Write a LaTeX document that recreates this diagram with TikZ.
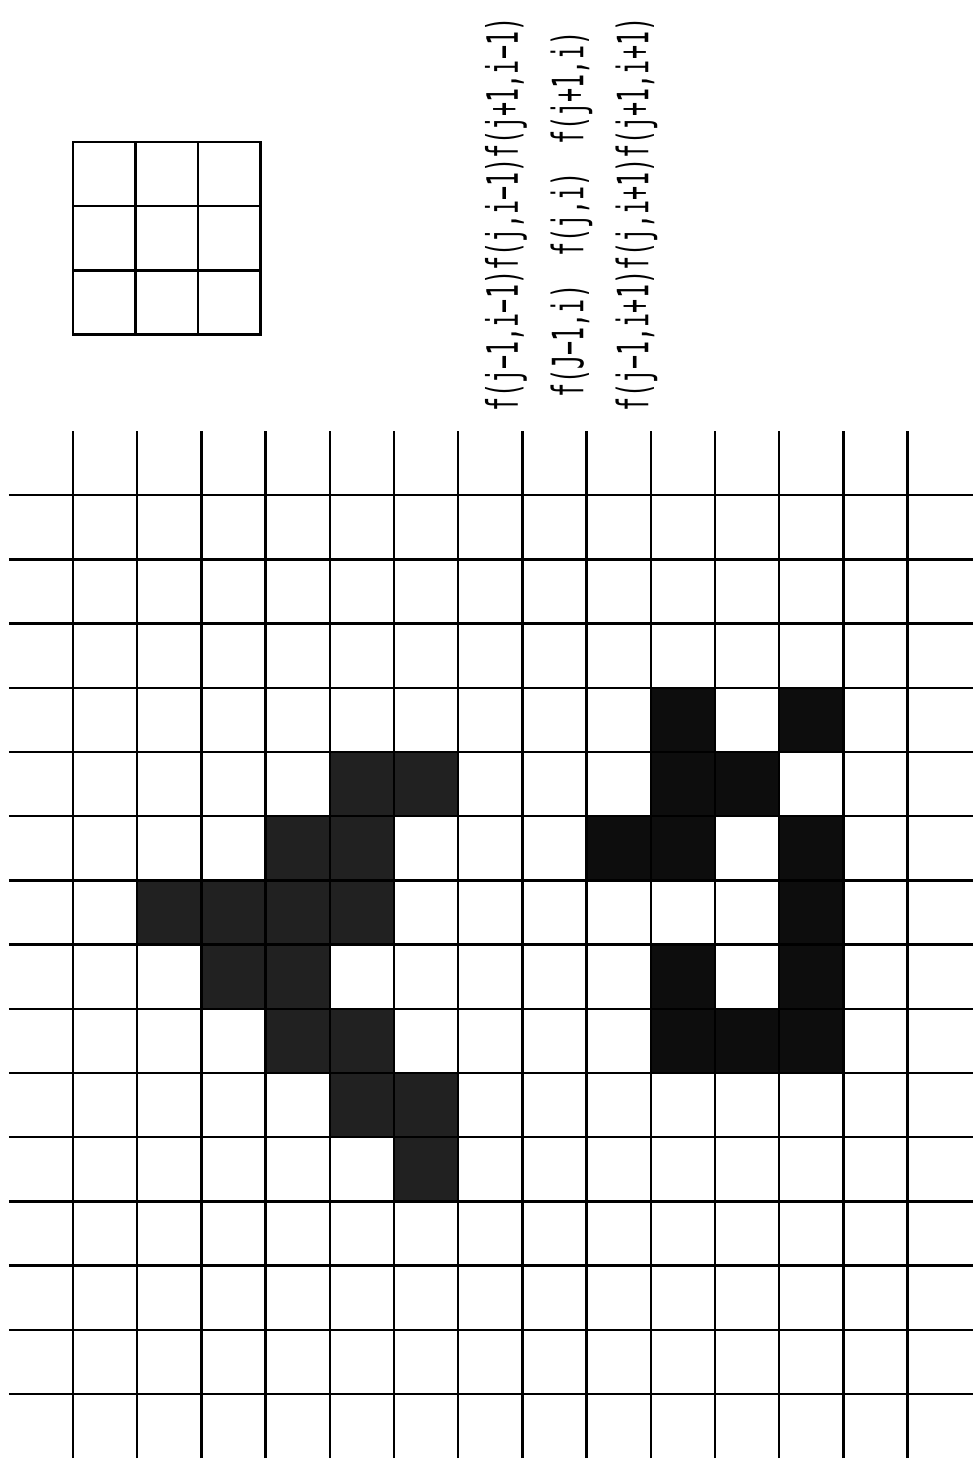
\documentclass[tikz,border=0pt]{standalone}
\usepackage{fontspec}
\usepackage{graphicx}
\usepackage{tikz}
\newfontfamily\plotfont{DejaVu Sans Mono}

\begin{document}
\begin{tikzpicture}[line width=1.1pt,
  cellL/.style={fill=black!87},
  cellR/.style={fill=black!95},
  flabel/.style={rotate=90,inner sep=0pt,font=\plotfont\fontsize{10.35}{12}\selectfont}]
\useasboundingbox (-1.137,-1.044) rectangle (14.02,21.713);
% shaded cells, left figure
\foreach \c/\r in {4/9,5/9,3/8,4/8,1/7,2/7,3/7,4/7,2/6,3/6,3/5,4/5,4/4,5/4,5/3}
  \fill[cellL] (\c,\r) rectangle ++(1,1);
% shaded cells, right figure
\foreach \c/\r in {9/10,11/10,9/9,10/9,8/8,9/8,11/8,11/7,9/6,11/6,9/5,10/5,11/5}
  \fill[cellR] (\c,\r) rectangle ++(1,1);
% main grid
\foreach \x in {0,...,13} \draw (\x,-1) -- (\x,15);
\foreach \y in {0,...,14} \draw (-1,\y) -- (14.02,\y);
% 3x3 window
\begin{scope}[yshift=16.5cm]
\draw (0,0) rectangle (2.92,3);
\draw[xstep=0.973,ystep=1] (0,0) grid (2.92,3);
\end{scope}
% neighbourhood labels
\node[flabel] (fprev) at (6.745,18.37) {\scalebox{1}[1.85]{f(j−1,i−1)f(j,i−1)f(j+1,i−1)}};
\node[flabel] (fcur)  at (7.765,18.37) {\scalebox{1}[1.85]{f(J−1,i)~~f(j,i)~~f(j+1,i)}};
\node[flabel] (fnext) at (8.777,18.37) {\scalebox{1}[1.85]{f(j−1,i+1)f(j,i+1)f(j+1,i+1)}};
\end{tikzpicture}
\end{document}
